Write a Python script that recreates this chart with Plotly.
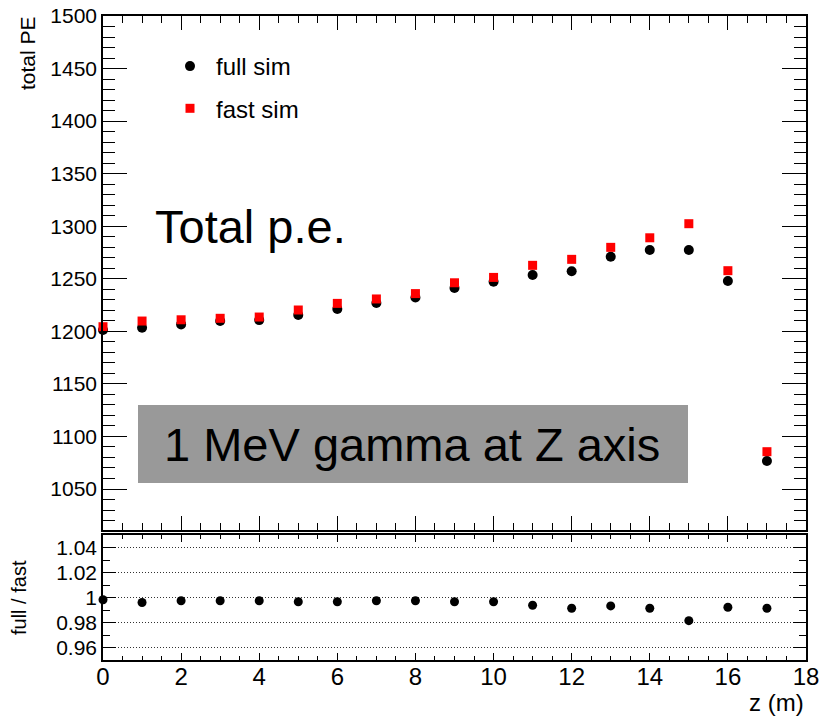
import plotly.graph_objects as go

# Detector position along the Z axis (m)
z_m = list(range(18))

# Total photo-electrons for 1 MeV gammas
full_sim = [1201.2, 1203.4, 1206.6, 1209.8, 1210.7, 1215.5, 1221.2, 1227.0, 1232.2,
            1241.2, 1247.2, 1253.6, 1257.1, 1271.0, 1277.4, 1277.4, 1247.9, 1076.6]
fast_sim = [1204.4, 1209.8, 1211.0, 1212.4, 1213.6, 1220.3, 1226.6, 1230.8, 1235.9,
            1246.2, 1251.3, 1262.8, 1268.5, 1279.9, 1289.0, 1302.4, 1257.7, 1085.5]

# full / fast ratio
ratio = [0.9982, 0.9960, 0.9974, 0.9974, 0.9974, 0.9966, 0.9966, 0.9974, 0.9974,
         0.9966, 0.9966, 0.9938, 0.9914, 0.9933, 0.9914, 0.9815, 0.9922, 0.9914]

ratio_ticks = [0.96, 0.98, 1.0, 1.02, 1.04]
ratio_ticktext = ["0.96", "0.98", "1", "1.02", "1.04"]

FONT = "Liberation Sans, Arial, Helvetica, sans-serif"

fig = go.Figure()

fig.add_trace(go.Scatter(
    x=z_m, y=full_sim, mode="markers", name="full sim",
    marker=dict(symbol="circle", size=10, color="black"),
    xaxis="x2", yaxis="y2", cliponaxis=False, legendgroup="a"))
fig.add_trace(go.Scatter(
    x=z_m, y=fast_sim, mode="markers", name="fast sim",
    marker=dict(symbol="square", size=9, color="#ff0000"),
    xaxis="x2", yaxis="y2", cliponaxis=False, legendgroup="b"))
fig.add_trace(go.Scatter(
    x=z_m, y=ratio, mode="markers", name="full / fast", showlegend=False,
    marker=dict(symbol="circle", size=9, color="black"),
    xaxis="x", yaxis="y", cliponaxis=False))

W, H = 823, 718
ML, MR, MT, MB = 103, 17, 16, 58
PW, PH = W - ML - MR, H - MT - MB


def px_x(px):
    return (px - ML) / PW


def px_y(py):
    return (H - MB - py) / PH


common_axis = dict(showline=True, linecolor="black", linewidth=1.5, mirror="allticks",
                   ticks="inside", tickcolor="black", tickwidth=1, zeroline=False,
                   automargin=False)

fig.update_layout(
    width=W, height=H,
    margin=dict(l=ML, r=MR, t=MT, b=MB, autoexpand=False),
    paper_bgcolor="white", plot_bgcolor="white",
    font=dict(family=FONT, color="black"),
    showlegend=True,
    legend=dict(x=px_x(164), y=px_y(44), xanchor="left", yanchor="top",
                bgcolor="rgba(0,0,0,0)", font=dict(size=24, family=FONT),
                traceorder="grouped", tracegroupgap=8, itemwidth=42),
    xaxis=dict(domain=[0, 1], anchor="y", range=[0, 18], tick0=0, dtick=2, ticklen=7,
               tickfont=dict(size=24), ticklabelstandoff=-6, showgrid=False,
               minor=dict(ticks="inside", ticklen=4, dtick=0.5, tick0=0,
                          tickcolor="black", showgrid=False),
               **common_axis),
    xaxis2=dict(domain=[0, 1], anchor="y2", range=[0, 18], tick0=0, dtick=2, ticklen=14,
                showticklabels=False, showgrid=False,
                minor=dict(ticks="inside", ticklen=7, dtick=0.5, tick0=0,
                           tickcolor="black", showgrid=False),
                **common_axis),
    yaxis=dict(domain=[0, px_y(535)], anchor="x", range=[0.95, 1.05],
               tickmode="array", tickvals=ratio_ticks, ticktext=ratio_ticktext,
               ticklen=13, tickfont=dict(size=21),
               minor=dict(ticks="inside", ticklen=7, dtick=0.01, tick0=0.95,
                          tickcolor="black", showgrid=False),
               showgrid=True, gridcolor="#333333", gridwidth=1, griddash="1px,2px",
               **common_axis),
    yaxis2=dict(domain=[px_y(530), 1], anchor="x2", range=[1011, 1500], tick0=1000,
                dtick=50, ticklen=24, tickfont=dict(size=21), showgrid=False,
                minor=dict(ticks="inside", ticklen=12, dtick=10, tick0=1000,
                           tickcolor="black", showgrid=False),
                **common_axis),
)

# grey label box
fig.add_shape(type="rect", xref="paper", yref="paper",
              x0=px_x(138), x1=px_x(688), y0=px_y(483), y1=px_y(405),
              fillcolor="#999999", line=dict(width=0), layer="below")

annotations = [
    dict(text="1 MeV gamma at Z axis", x=px_x(412), y=px_y(444),
         xanchor="center", yanchor="middle", font=dict(size=47)),
    dict(text="Total p.e.", x=px_x(250), y=px_y(226),
         xanchor="center", yanchor="middle", font=dict(size=47)),
    dict(text="z (m)", x=1, y=px_y(702), xanchor="right", yanchor="middle",
         font=dict(size=24)),
    dict(text="total PE", x=px_x(27), y=px_y(14), xanchor="center", yanchor="top",
         textangle=-90, font=dict(size=21)),
    dict(text="full / fast", x=px_x(19), y=px_y(598), xanchor="center", yanchor="middle",
         textangle=-90, font=dict(size=20)),
]
for a in annotations:
    a.update(xref="paper", yref="paper", showarrow=False)
    a["font"]["family"] = FONT
    a["font"]["color"] = "black"
    fig.add_annotation(**a)

fig.write_html("out.html", config={"displayModeBar": False})
